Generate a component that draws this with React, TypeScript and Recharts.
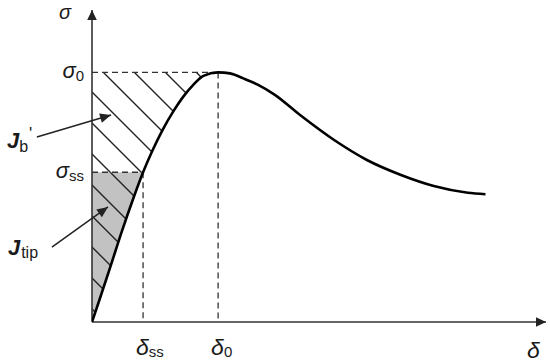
import { ComposedChart, Line, Area, XAxis, YAxis, ReferenceLine, ReferenceDot } from "recharts"

// traction-separation curve (delta0 = 1, sigma0 = 1)
const deltaValues = [0, 0.064, 0.15, 0.236, 0.328, 0.405, 0.475, 0.56, 0.646, 0.724, 0.803, 0.883, 1.0, 1.094, 1.2, 1.31, 1.45, 1.65, 1.92, 2.18, 2.45, 2.71, 2.98, 3.12]
const sigmaValues = [0, 0.096, 0.228, 0.362, 0.496, 0.6, 0.682, 0.77, 0.845, 0.903, 0.95, 0.986, 1.0, 0.996, 0.976, 0.952, 0.91, 0.829, 0.729, 0.649, 0.589, 0.545, 0.518, 0.512]

const DELTA_SS = 0.405
const SIGMA_SS = 0.6
const DELTA_0 = 1.0
const SIGMA_0 = 1.0

const xTickValues = [DELTA_SS, DELTA_0]
const yTickValues = [SIGMA_SS, SIGMA_0]
const tickSubscripts = ["ss", "0"]

const X_MAX = 3.6
const Y_MAX = 1.25

const curveData = deltaValues.map((d, i) => ({ d, s: sigmaValues[i] }))

// J_b' : between the axis, sigma0 and the curve, above sigma_ss
const upperRegion = [
  { d: 0, band: [SIGMA_SS, SIGMA_0] },
  ...curveData.filter((p) => p.d >= DELTA_SS && p.d <= DELTA_0).map((p) => ({ d: p.d, band: [p.s, SIGMA_0] })),
]

// J_tip : below sigma_ss
const lowerRegion = curveData.filter((p) => p.d <= DELTA_SS).map((p) => ({ d: p.d, band: [p.s, SIGMA_SS] }))

const FONT = "'Liberation Sans', Arial, sans-serif"
const INK = "#1a1a1a"

const YTick = (props: any) => {
  const { x, y, payload } = props
  const sub = tickSubscripts[yTickValues.indexOf(payload.value)]
  return (
    <text x={x - 8} y={y + 6} textAnchor="end" fontFamily={FONT} fill={INK}>
      <tspan fontSize={22} fontStyle="italic">σ</tspan>
      <tspan fontSize={15} dy={3}>{sub}</tspan>
    </text>
  )
}

const XTick = (props: any) => {
  const { x, y, payload } = props
  const sub = tickSubscripts[xTickValues.indexOf(payload.value)]
  return (
    <text x={x - 7} y={y + 33} fontFamily={FONT} fill={INK}>
      <tspan fontSize={23} fontStyle="italic">δ</tspan>
      <tspan fontSize={15} dy={2}>{sub}</tspan>
    </text>
  )
}

const arrowHead = (x1: number, y1: number, x2: number, y2: number, len: number, half: number) => {
  const a = Math.atan2(y2 - y1, x2 - x1)
  const bx = x2 - len * Math.cos(a)
  const by = y2 - len * Math.sin(a)
  const px = -Math.sin(a) * half
  const py = Math.cos(a) * half
  return `M${x2},${y2} L${bx + px},${by + py} L${bx - px},${by - py} Z`
}

const axisShape = (props: any) => {
  const { x1, y1, x2, y2 } = props
  return (
    <g>
      <line x1={x1} y1={y1} x2={x2} y2={y2} stroke="#333" strokeWidth={1.6} />
      <path d={arrowHead(x1, y1, x2, y2, 10, 4.8)} fill="#222" />
    </g>
  )
}

const pointer = (label: "b" | "tip") => (props: any) => {
  const { x1, y1, x2, y2 } = props
  return (
    <g>
      <line x1={x1} y1={y1} x2={x2} y2={y2} stroke="#222" strokeWidth={1.5} />
      <path d={arrowHead(x1, y1, x2, y2, 11, 4.8)} fill="#222" />
      {label === "b" ? (
        <text x={x1 - 30} y={y1 + 11} fontFamily={FONT} fill={INK}>
          <tspan fontSize={22} fontStyle="italic" fontWeight="bold">J</tspan>
          <tspan fontSize={16} dy={4}>b</tspan>
          <tspan fontSize={17} dy={-13} dx={1}>'</tspan>
        </text>
      ) : (
        <text x={x1 - 44} y={y1 + 8} fontFamily={FONT} fill={INK}>
          <tspan fontSize={22} fontStyle="italic" fontWeight="bold">J</tspan>
          <tspan fontSize={16} dy={3} dx={1}>tip</tspan>
        </text>
      )}
    </g>
  )
}

const dashed = { stroke: "#333", strokeWidth: 1.3, strokeDasharray: "6 4" }

export default function App() {
  return (
    <div style={{ position: "absolute", left: 0, top: 0, width: 550, height: 363, background: "#fff" }}>
      <ComposedChart width={550} height={363} data={curveData} margin={{ top: 10, right: 4, bottom: 0, left: 0 }}>
        <defs>
          <pattern id="hatch" patternUnits="userSpaceOnUse" width={31} height={31}>
            <path d="M0,0 L31,31 M-3,28 L3,34 M28,-3 L34,3" stroke="#222" strokeWidth={1.4} />
          </pattern>
          <pattern id="hatchGrey" patternUnits="userSpaceOnUse" width={31} height={31}>
            <rect width={31} height={31} fill="#c2c2c2" />
            <path d="M0,0 L31,31 M-3,28 L3,34 M28,-3 L34,3" stroke="#222" strokeWidth={1.4} />
          </pattern>
        </defs>
        <XAxis
          type="number"
          dataKey="d"
          domain={[0, X_MAX]}
          ticks={xTickValues}
          interval={0}
          allowDataOverflow
          height={41}
          axisLine={false}
          tickLine={false}
          tickSize={0}
          tickMargin={0}
          tick={<XTick />}
        />
        <YAxis
          type="number"
          domain={[0, Y_MAX]}
          ticks={yTickValues}
          interval={0}
          allowDataOverflow
          width={92}
          axisLine={false}
          tickLine={false}
          tickSize={0}
          tickMargin={0}
          tick={<YTick />}
        />
        <Area data={upperRegion} dataKey="band" type="monotone" stroke="none" fill="url(#hatch)" fillOpacity={1} isAnimationActive={false} />
        <Area data={lowerRegion} dataKey="band" type="monotone" stroke="none" fill="url(#hatchGrey)" fillOpacity={1} isAnimationActive={false} />

        <ReferenceLine segment={[{ x: 0, y: SIGMA_0 }, { x: DELTA_0, y: SIGMA_0 }]} {...dashed} />
        <ReferenceLine segment={[{ x: DELTA_0, y: SIGMA_0 }, { x: DELTA_0, y: 0 }]} {...dashed} />
        <ReferenceLine segment={[{ x: 0, y: SIGMA_SS }, { x: DELTA_SS, y: SIGMA_SS }]} {...dashed} />
        <ReferenceLine segment={[{ x: DELTA_SS, y: SIGMA_SS }, { x: DELTA_SS, y: 0 }]} {...dashed} />

        <ReferenceLine segment={[{ x: 0, y: 0 }, { x: 0, y: Y_MAX }]} shape={axisShape} />
        <ReferenceLine segment={[{ x: 0, y: 0 }, { x: X_MAX, y: 0 }]} shape={axisShape} />

        <Line dataKey="s" type="monotone" stroke="#000" strokeWidth={2.6} dot={false} isAnimationActive={false} />

        <ReferenceLine ifOverflow="visible" segment={[{ x: -0.437, y: 0.741 }, { x: 0.151, y: 0.829 }]} shape={pointer("b")} />
        <ReferenceLine ifOverflow="visible" segment={[{ x: -0.318, y: 0.3 }, { x: 0.127, y: 0.461 }]} shape={pointer("tip")} />

        <ReferenceDot
          x={0}
          y={Y_MAX}
          shape={(p: any) => (
            <text x={p.cx - 33} y={p.cy + 9} fontFamily={FONT} fontSize={20} fontStyle="italic" fill={INK}>σ</text>
          )}
        />
        <ReferenceDot
          x={X_MAX}
          y={0}
          shape={(p: any) => (
            <text x={p.cx - 19} y={p.cy + 36} fontFamily={FONT} fontSize={23} fontStyle="italic" fill={INK}>δ</text>
          )}
        />
      </ComposedChart>
    </div>
  )
}
